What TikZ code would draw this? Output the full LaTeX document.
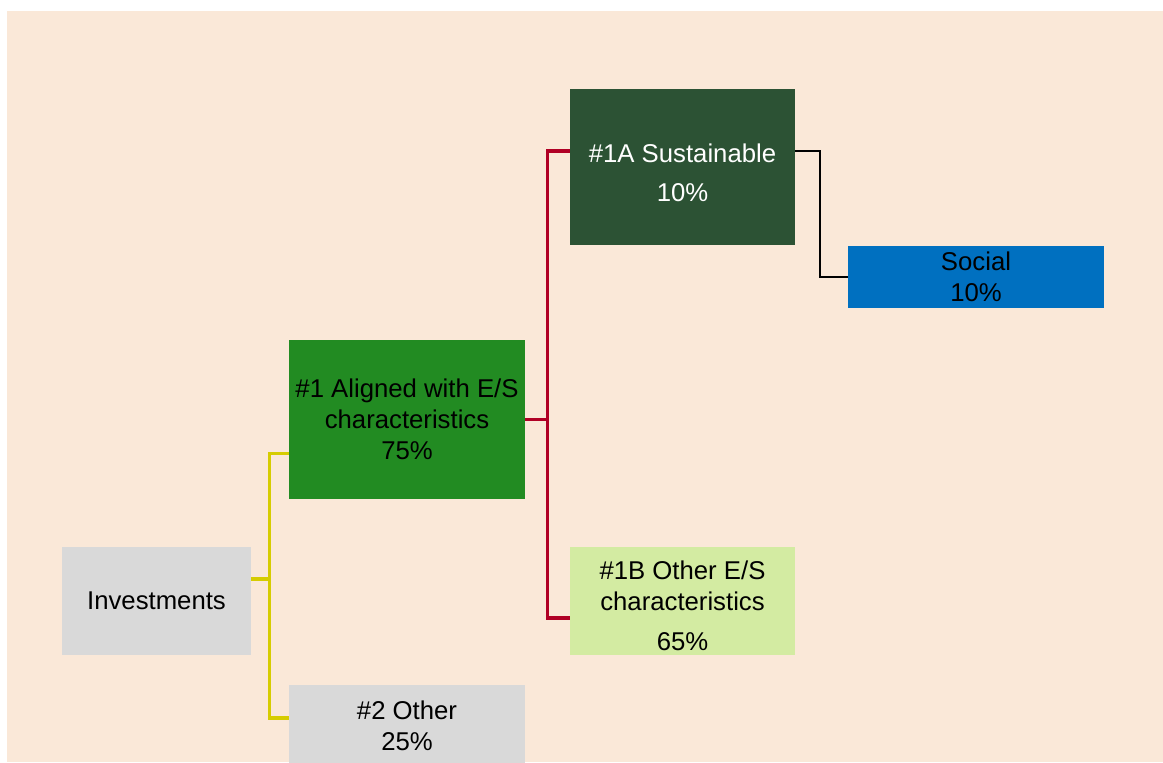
\documentclass[tikz,border=0pt]{standalone}
\usepackage{fontspec}
\setmainfont{Liberation Sans}
\usetikzlibrary{positioning}

\definecolor{peach}{HTML}{FAE8D8}
\definecolor{boxgrey}{HTML}{D9D9D9}
\definecolor{alggreen}{HTML}{228B22}
\definecolor{susgreen}{HTML}{2C5234}
\definecolor{othgreen}{HTML}{D3EBA2}
\definecolor{socblue}{HTML}{0070C0}
\definecolor{ylwline}{HTML}{D6CC00}
\definecolor{redline}{HTML}{B00025}

\tikzset{
  cat/.style={align=center,inner sep=0pt,font=\fontsize{18.3}{22}\selectfont},
  yline/.style={ylwline,line width=2.2pt},
  rline/.style={redline,line width=2.2pt},
  kline/.style={black,line width=1.5pt}
}

\begin{document}
\begin{tikzpicture}
\useasboundingbox (0,0) rectangle (29.075,19.05);
% background
\fill[peach] (0.175,0) rectangle (29.075,18.775);
% boxes
\node[cat,fill=boxgrey,minimum width=4.725cm,minimum height=2.7cm] (inv) at (3.9125,4.025) {Investments};
\node[cat,fill=alggreen,minimum width=5.9cm,minimum height=3.975cm] (alg) at (10.175,8.5625) {\#1 Aligned with E/S\\characteristics\\75\%};
\node[cat,fill=boxgrey,minimum width=5.9cm,minimum height=2.05cm] (oth) at (10.175,0.9) {\#2 Other\\25\%};
\node[cat,fill=susgreen,minimum width=5.625cm,minimum height=3.9cm] (sus) at (17.0625,14.875) {};
\node[cat,text=white,yshift=-1.5mm] (sus-t) at (sus) {\#1A Sustainable\\[6pt]10\%};
\node[cat,fill=othgreen,minimum width=5.625cm,minimum height=2.7cm] (oes) at (17.0625,4.025) {};
\node[cat,yshift=-1.2mm] (oes-t) at (oes) {\#1B Other E/S\\characteristics\\[6pt]65\%};
\node[cat,fill=socblue,minimum width=6.4cm,minimum height=1.55cm] (soc) at (24.4,12.125) {Social\\10\%};
% connection points
\coordinate (inv-out) at ([yshift=5.5mm]inv.east);
\coordinate (alg-in) at ([yshift=-8.4mm]alg.west);
\coordinate (oth-in) at ([yshift=2mm]oth.west);
\coordinate (sus-in) at ([yshift=4mm]sus.west);
\coordinate (oes-in) at ([yshift=-4.25mm]oes.west);
\coordinate (sus-out) at ([yshift=4mm]sus.east);
% yellow tree
\draw[yline] (inv-out) -- ++(0.45,0) coordinate (ybus);
\draw[yline] (alg-in) -| (ybus) |- (oth-in);
% red tree
\draw[rline] (alg.east) -- ++(0.55,0) coordinate (rbus);
\draw[rline] (sus-in) -| (rbus) |- (oes-in);
% black link
\draw[kline] (sus-out) -- ++(0.625,0) |- (soc.west);
\end{tikzpicture}
\end{document}
